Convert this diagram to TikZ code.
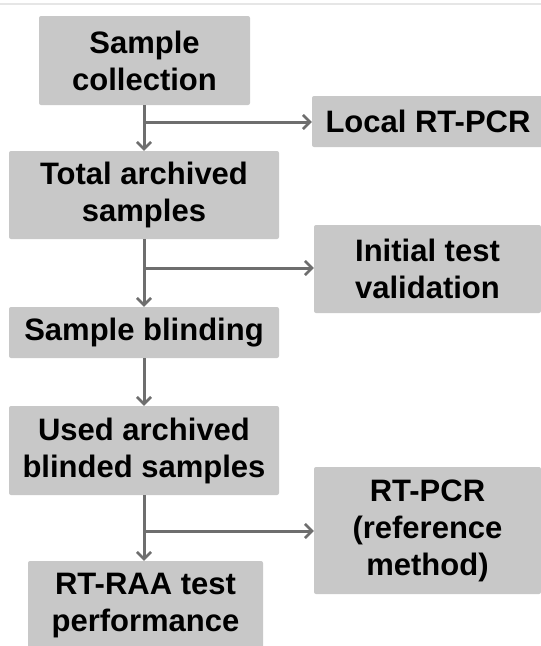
\documentclass[tikz,border=0pt]{standalone}
\usepackage{fontspec}
\setmainfont{Liberation Sans}
\usepackage{xcolor}
\usepackage{tikz}
\usetikzlibrary{arrows.meta}
\usetikzlibrary{positioning}
\definecolor{boxgray}{RGB}{200,200,200}
\definecolor{flowgray}{RGB}{110,110,110}
\definecolor{rulegray}{RGB}{230,230,230}
\tikzset{stagebox/.style={fill=boxgray, rounded corners=2pt, inner sep=0pt, align=center,
  font=\fontsize{31}{37}\selectfont\bfseries}}
\tikzset{flow/.style={draw=flowgray, line width=3pt, -{Straight Barb[length=7pt,width=14pt,line width=2.6pt]}}}

\begin{document}
\begin{tikzpicture}[x=1pt,y=-1pt]
{
\useasboundingbox (0,0) rectangle (541,646);
\draw[rulegray, line width=2pt] (0,4) -- (541,4);
% main column
\node[stagebox, minimum width=211pt, minimum height=89pt] (collect) at (144.5,60.5) {Sample\\collection};
\node[stagebox, minimum width=270pt, minimum height=88pt] (total) at (144,195) {Total archived\\samples};
\node[stagebox, minimum width=270pt, minimum height=51pt] (blind) at (144,332.5) {Sample blinding};
\node[stagebox, minimum width=270pt, minimum height=89pt] (used) at (144,450.5) {Used archived\\blinded samples};
\node[stagebox, minimum width=235pt, minimum height=89pt] (raa) at (145.5,605.5) {RT-RAA test\\performance};
% side column
\node[stagebox, minimum width=232pt, minimum height=51pt] (local) at (428,121.5) {Local RT-PCR};
\node[stagebox, minimum width=227pt, minimum height=88pt] (initial) at (427.5,269) {Initial test\\validation};
\node[stagebox, minimum width=227pt, minimum height=127pt] (refpcr) at (427.5,530.5) {RT-PCR\\(reference\\method)};
% connectors
\coordinate (b1) at (144,122);
\coordinate (b2) at (144,268);
\coordinate (b3) at (144,531);
\draw[flow] (collect.south -| b1) -- (total.north -| b1);
\draw[flow] (total.south -| b2) -- (blind.north -| b2);
\draw[flow] (blind.south -| b2) -- (used.north -| b2);
\draw[flow] (used.south -| b3) -- (raa.north -| b3);
\draw[flow] (b1) -- (b1 -| local.west);
\draw[flow] (b2) -- (b2 -| initial.west);
\draw[flow] (b3) -- (b3 -| refpcr.west);
}
\end{tikzpicture}
\end{document}
